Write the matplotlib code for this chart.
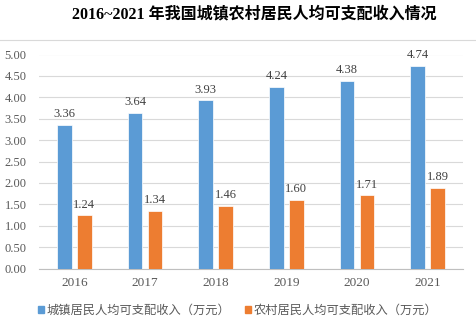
import matplotlib
matplotlib.use('Agg')
import matplotlib.pyplot as plt
from matplotlib.lines import Line2D
from matplotlib.patches import Patch
import numpy as np

years = ['2016', '2017', '2018', '2019', '2020', '2021']
urban = [3.36, 3.64, 3.93, 4.24, 4.38, 4.74]
rural = [1.24, 1.34, 1.46, 1.60, 1.71, 1.89]
series_names = ['城镇居民人均可支配收入（万元）', '农村居民人均可支配收入（万元）']
title = '2016~2021 年我国城镇农村居民人均可支配收入情况'

blue = '#5B9BD5'
orange = '#ED7D31'
serif = ['Liberation Serif', 'Noto Sans CJK SC']
cjk = ['Noto Sans CJK SC', 'DejaVu Sans']

W, H = 476, 325
fig = plt.figure(figsize=(W / 100, H / 100), dpi=100)
ax = fig.add_axes([39 / W, 1 - 268.5 / H, (463 - 39) / W, 214 / H])

x = np.arange(len(years))
bw = 0.21
off = 0.142
b1 = ax.bar(x - off, urban, bw, color=blue, edgecolor='white', linewidth=0.5, zorder=3)
b2 = ax.bar(x + off, rural, bw, color=orange, edgecolor='white', linewidth=0.5, zorder=3)

for bars, vals in ((b1, urban), (b2, rural)):
    for r, v in zip(bars, vals):
        ax.text(r.get_x() + r.get_width() / 2, v + 0.11, f'{v:.2f}', ha='center', va='bottom',
                fontsize=9, family=serif, color='#404040')

ax.set_xlim(-0.5, len(years) - 0.5)
ax.set_ylim(0, 5.0)
ax.set_yticks(np.arange(0, 5.01, 0.5))
ax.set_yticklabels([f'{v:.2f}' for v in np.arange(0, 5.01, 0.5)], family=serif, fontsize=9, color='#595959')
ax.set_xticks(x)
ax.set_xticklabels(years, family=serif, fontsize=9.5, color='#595959')
ax.tick_params(length=0)
ax.tick_params(axis='y', pad=9)
ax.tick_params(axis='x', pad=6)
ax.yaxis.grid(True, color='#d9d9d9', linewidth=0.8, zorder=0)
for s in ('top', 'right', 'left'):
    ax.spines[s].set_visible(False)
ax.spines['bottom'].set_color('#bfbfbf')
ax.spines['bottom'].set_linewidth(0.8)

fig.text(254 / W, 1 - 14 / H, title, ha='center', va='center', fontsize=11.5,
         fontweight='bold', family=serif, color='#000000')
fig.add_artist(Line2D([0, 1], [1 - 40 / H, 1 - 40 / H], color='#d9d9d9', linewidth=0.8))

handles = [Patch(color=blue), Patch(color=orange)]
leg = fig.legend(handles, series_names, loc='center', bbox_to_anchor=(238 / W, 1 - 310 / H),
                 ncol=2, frameon=False, prop={'family': cjk, 'size': 8.8},
                 handlelength=0.5, handleheight=0.5, handletextpad=0.2, columnspacing=1.2)
for t in leg.get_texts():
    t.set_color('#595959')

fig.savefig('out.png', dpi=100)
